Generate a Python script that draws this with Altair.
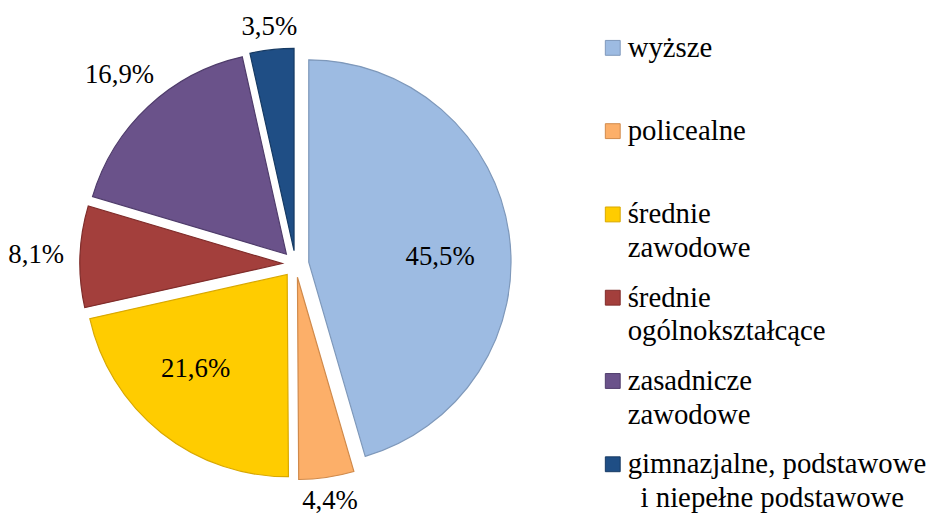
import altair as alt
import pandas as pd

# ---- data ----
categories = [
    "wyższe",
    "policealne",
    "średnie zawodowe",
    "średnie ogólnokształcące",
    "zasadnicze zawodowe",
    "gimnazjalne, podstawowe i niepełne podstawowe",
]
legend_labels = [
    "wyższe",
    "policealne",
    "średnie\nzawodowe",
    "średnie\nogólnokształcące",
    "zasadnicze\nzawodowe",
    "gimnazjalne, podstawowe\n\u200b\u00a0\u2009i niepełne podstawowe",
]
values = [45.5, 4.4, 21.6, 8.1, 16.9, 3.5]
colors = ["#9DBBE2", "#FCAF69", "#FFCC00", "#A33F3C", "#6A528A", "#1F4E85"]
edges = ["#7E98BA", "#D08A4B", "#D9A800", "#7F2C2A", "#4F3C6B", "#163A63"]

df = pd.DataFrame({
    "cat": categories,
    "legend": legend_labels,
    "value": values,
    "idx": list(range(len(values))),
})

W, H = 932, 511
CX, CY = 290, 256
R = 204
EXPLODE = 13.5
FS = 27
SERIF = "Liberation Serif"

# legend layout (data units of the shared x / y scales; y points up)
LEG_SYM_X = 610 - CX
LEG_TXT_X = 625 - CX
LEG_TOP = CY - 38
LEG_STEP = 84

xscale = alt.Scale(domain=[-CX, W - CX], nice=False, zero=False)
yscale = alt.Scale(domain=[-(H - CY), CY], nice=False, zero=False)
cscale = alt.Scale(domain=categories, range=colors)
sscale = alt.Scale(domain=categories, range=edges)

base = (
    alt.Chart(df)
    .transform_joinaggregate(total="sum(value)")
    .transform_window(cum="sum(value)", sort=[alt.SortField("idx")], frame=[None, 0])
    .transform_calculate(
        a0="(datum.cum - datum.value)/datum.total*2*PI",
        a1="datum.cum/datum.total*2*PI",
        mid="(datum.cum - datum.value/2)/datum.total*2*PI",
    )
    .transform_calculate(
        ex=f"{EXPLODE}*sin(datum.mid)",
        ey=f"{EXPLODE}*cos(datum.mid)",
        lbl="replace(format(datum.value, '.1f'), '.', ',') + '%'",
        lx_sym=f"{LEG_SYM_X}",
        lx_txt=f"{LEG_TXT_X}",
        ly=f"{LEG_TOP} - datum.idx*{LEG_STEP}",
        # bounding box of the slice (unit circle, y up)
        bx1="max(0, sin(datum.a0), sin(datum.a1), (datum.a0 <= PI/2 && datum.a1 >= PI/2) ? 1 : 0)",
        bx0="min(0, sin(datum.a0), sin(datum.a1), (datum.a0 <= 3*PI/2 && datum.a1 >= 3*PI/2) ? -1 : 0)",
        by1="max(0, cos(datum.a0), cos(datum.a1), (datum.a0 <= 0 || datum.a1 >= 2*PI) ? 1 : 0)",
        by0="min(0, cos(datum.a0), cos(datum.a1), (datum.a0 <= PI && datum.a1 >= PI) ? -1 : 0)",
    )
    .transform_calculate(
        tw=f"{FS}*(0.5*(length(datum.lbl)-2) + 1.08)",
        inang="atan2((datum.bx0 + datum.bx1)/2, (datum.by0 + datum.by1)/2)",
    )
    .transform_calculate(
        lang="datum.value >= 20 ? datum.inang : datum.mid",
        lr=f"datum.value >= 20 ? {0.65 * R} : {R + 16} + abs(sin(datum.mid))*datum.tw/2 + abs(cos(datum.mid))*4",
    )
    .transform_calculate(
        tx="datum.ex + datum.lr*sin(datum.lang)",
        ty="datum.ey + datum.lr*cos(datum.lang)",
    )
)

arcs = base.mark_arc(outerRadius=R, strokeWidth=1.2).encode(
    theta=alt.Theta("value:Q", stack=True),
    order=alt.Order("idx:Q"),
    x=alt.X("ex:Q", scale=xscale, axis=None),
    y=alt.Y("ey:Q", scale=yscale, axis=None),
    color=alt.Color("cat:N", scale=cscale, legend=None),
    stroke=alt.Stroke("cat:N", scale=sscale, legend=None),
)

labels = base.mark_text(font=SERIF, fontSize=FS, color="#000000").encode(
    x=alt.X("tx:Q", scale=xscale, axis=None),
    y=alt.Y("ty:Q", scale=yscale, axis=None),
    text="lbl:N",
)

leg_sym = base.mark_square(size=225, opacity=1, strokeWidth=1).encode(
    x=alt.X("lx_sym:Q", scale=xscale, axis=None),
    y=alt.Y("ly:Q", scale=yscale, axis=None),
    color=alt.Color("cat:N", scale=cscale, legend=None),
    stroke=alt.Stroke("cat:N", scale=sscale, legend=None),
)

leg_txt = base.mark_text(
    font=SERIF, fontSize=29, lineHeight=34, align="left", baseline="alphabetic",
    dy=9, lineBreak="\n", color="#000000",
).encode(
    x=alt.X("lx_txt:Q", scale=xscale, axis=None),
    y=alt.Y("ly:Q", scale=yscale, axis=None),
    text="legend:N",
)

chart = (
    alt.layer(arcs, labels, leg_sym, leg_txt)
    .properties(width=W, height=H, padding=0, autosize=alt.AutoSizeParams(type="none"))
    .configure_view(stroke=None)
)

chart.save("out.html", embed_options={"renderer": "svg", "actions": False})
